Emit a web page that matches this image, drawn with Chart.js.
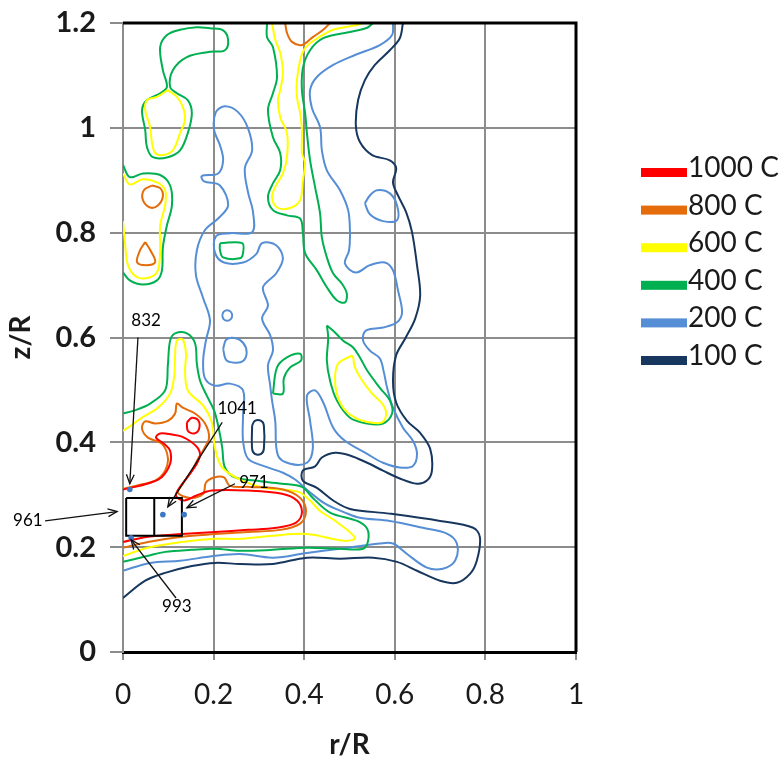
<!DOCTYPE html>
<html><head><meta charset="utf-8">
<script src="https://cdn.jsdelivr.net/npm/chart.js@4.4.0/dist/chart.umd.min.js"></script>
<style>html,body{margin:0;padding:0;background:#fff;}canvas{display:block;}</style>
</head><body>
<canvas id="c" width="782" height="763"></canvas>
<script>
// ---------- categories / ticks ----------
const levels = ['1000 C','800 C','600 C','400 C','200 C','100 C'];
const xTickValues = [0,0.2,0.4,0.6,0.8,1];
const yTickValues = [0,0.2,0.4,0.6,0.8,1,1.2];

// ---------- contour lines, [r/R, z/R] ----------
// 1000 C
const red1000_hot = [[0,0.310],[0.026,0.315],[0.060,0.323],[0.086,0.334],[0.104,0.359],[0.104,0.384],[0.091,0.397],[0.073,0.409],[0.082,0.417],[0.108,0.415],[0.130,0.411],[0.150,0.401],[0.166,0.388],[0.170,0.375],[0.163,0.359],[0.146,0.338],[0.126,0.315],[0.117,0.298],[0.135,0.289],[0.161,0.298],[0.196,0.308],[0.276,0.308],[0.351,0.302],[0.384,0.289],[0.395,0.266],[0.382,0.247],[0.338,0.237],[0.276,0.233],[0.203,0.229],[0.130,0.225],[0.055,0.220],[0,0.210]];
const red1000_small = [[0.141,0.438],[0.152,0.447],[0.166,0.442],[0.168,0.426],[0.157,0.417],[0.143,0.422],[0.141,0.438]];
// 800 C
const orange800_hot = [[0,0.311],[0.038,0.319],[0.071,0.327],[0.093,0.346],[0.099,0.371],[0.086,0.397],[0.055,0.409],[0.042,0.426],[0.049,0.440],[0.071,0.436],[0.099,0.441],[0.115,0.455],[0.119,0.474],[0.132,0.466],[0.159,0.455],[0.181,0.436],[0.190,0.409],[0.179,0.388],[0.166,0.369],[0.152,0.346],[0.132,0.321],[0.121,0.304],[0.148,0.294],[0.177,0.302],[0.183,0.323],[0.201,0.333],[0.223,0.333],[0.236,0.317],[0.280,0.315],[0.353,0.310],[0.391,0.294],[0.404,0.268],[0.391,0.245],[0.347,0.233],[0.276,0.229],[0.203,0.225],[0.130,0.220],[0.055,0.210],[0,0.199]];
const orange800_top = [[0.358,1.200],[0.362,1.181],[0.373,1.164],[0.395,1.158],[0.419,1.173],[0.442,1.187],[0.457,1.200]];
const orange800_upperLeft = [[0.064,0.890],[0.082,0.885],[0.088,0.869],[0.077,0.852],[0.060,0.848],[0.044,0.862],[0.046,0.881],[0.064,0.890]];
const orange800_lowerLeft = [[0.049,0.782],[0.060,0.767],[0.071,0.744],[0.051,0.738],[0.031,0.744],[0.038,0.767],[0.049,0.782]];
// 600 C
const yellow600_topLeft = [[0.099,1.072],[0.119,1.059],[0.132,1.040],[0.137,1.015],[0.126,0.990],[0.110,0.957],[0.088,0.948],[0.071,0.952],[0.064,0.971],[0.060,1.001],[0.049,1.034],[0.053,1.053],[0.075,1.059],[0.099,1.072]];
const yellow600_left = [[0,0.913],[0.015,0.892],[0.044,0.902],[0.075,0.896],[0.093,0.881],[0.093,0.852],[0.082,0.814],[0.082,0.767],[0.077,0.728],[0.060,0.715],[0.031,0.715],[0.011,0.738],[0.004,0.785],[0,0.822]];
const yellow600_top = [[0.329,1.200],[0.336,1.168],[0.347,1.143],[0.353,1.105],[0.347,1.072],[0.342,1.053],[0.347,1.020],[0.362,0.990],[0.362,0.944],[0.353,0.913],[0.336,0.887],[0.329,0.868],[0.340,0.848],[0.369,0.847],[0.391,0.862],[0.397,0.900],[0.402,0.933],[0.395,0.952],[0.395,0.996],[0.391,1.028],[0.384,1.059],[0.384,1.091],[0.391,1.129],[0.402,1.152],[0.424,1.168],[0.464,1.187],[0.517,1.196],[0.530,1.200]];
const yellow600_right = [[0.506,0.566],[0.475,0.550],[0.468,0.524],[0.472,0.493],[0.486,0.466],[0.512,0.447],[0.545,0.438],[0.572,0.438],[0.581,0.455],[0.572,0.474],[0.550,0.493],[0.528,0.518],[0.512,0.543],[0.508,0.562],[0.506,0.566]];
const yellow600_hot = [[0,0.422],[0.011,0.428],[0.042,0.447],[0.077,0.466],[0.104,0.493],[0.113,0.527],[0.115,0.566],[0.119,0.594],[0.132,0.596],[0.139,0.569],[0.137,0.537],[0.143,0.499],[0.177,0.470],[0.196,0.438],[0.203,0.390],[0.219,0.352],[0.263,0.327],[0.313,0.313],[0.386,0.306],[0.413,0.289],[0.435,0.269],[0.472,0.248],[0.512,0.218],[0.490,0.212],[0.406,0.225],[0.331,0.222],[0.258,0.216],[0.203,0.216],[0.130,0.210],[0.055,0.199],[0,0.183]];
// 400 C
const green400_topLeft = [[0.192,1.190],[0.221,1.186],[0.232,1.168],[0.225,1.148],[0.192,1.145],[0.141,1.135],[0.110,1.110],[0.104,1.078],[0.119,1.066],[0.143,1.053],[0.152,1.028],[0.143,0.990],[0.126,0.957],[0.099,0.944],[0.066,0.944],[0.053,0.963],[0.049,0.996],[0.042,1.034],[0.053,1.053],[0.082,1.066],[0.097,1.078],[0.088,1.110],[0.082,1.154],[0.097,1.177],[0.126,1.187],[0.163,1.192],[0.192,1.190]];
const green400_left = [[0,0.929],[0.015,0.906],[0.044,0.913],[0.082,0.910],[0.104,0.890],[0.108,0.852],[0.097,0.814],[0.088,0.772],[0.086,0.728],[0.075,0.709],[0.044,0.701],[0.015,0.709],[0,0.724]];
const green400_top = [[0.318,1.200],[0.318,1.173],[0.331,1.154],[0.340,1.097],[0.331,1.066],[0.320,1.034],[0.331,0.982],[0.347,0.952],[0.347,0.919],[0.331,0.894],[0.320,0.868],[0.331,0.843],[0.362,0.833],[0.391,0.827],[0.397,0.801],[0.402,0.761],[0.428,0.728],[0.450,0.696],[0.472,0.671],[0.490,0.667],[0.494,0.684],[0.483,0.703],[0.464,0.722],[0.450,0.753],[0.439,0.791],[0.435,0.837],[0.424,0.887],[0.413,0.938],[0.406,0.990],[0.402,1.028],[0.395,1.072],[0.397,1.114],[0.413,1.148],[0.442,1.171],[0.501,1.183],[0.539,1.191],[0.552,1.200]];
const green400_smallOval = [[0.214,0.780],[0.263,0.780],[0.265,0.761],[0.258,0.751],[0.221,0.753],[0.214,0.767],[0.214,0.780]];
const green400_arc = [[0.331,0.493],[0.340,0.543],[0.362,0.562],[0.391,0.569],[0.393,0.556],[0.369,0.543],[0.355,0.522],[0.353,0.493],[0.331,0.493]];
const green400_right = [[0.450,0.623],[0.453,0.600],[0.450,0.556],[0.457,0.518],[0.472,0.480],[0.501,0.447],[0.539,0.436],[0.574,0.436],[0.594,0.455],[0.589,0.480],[0.567,0.504],[0.539,0.537],[0.523,0.562],[0.508,0.581],[0.486,0.594],[0.464,0.613],[0.450,0.623]];
const green400_hot = [[0,0.455],[0.026,0.461],[0.060,0.474],[0.093,0.499],[0.099,0.547],[0.104,0.594],[0.115,0.608],[0.141,0.608],[0.159,0.589],[0.163,0.550],[0.170,0.518],[0.185,0.489],[0.201,0.461],[0.210,0.432],[0.219,0.390],[0.225,0.352],[0.247,0.333],[0.291,0.327],[0.351,0.321],[0.395,0.315],[0.419,0.294],[0.457,0.266],[0.517,0.250],[0.539,0.235],[0.541,0.212],[0.530,0.197],[0.479,0.197],[0.406,0.199],[0.331,0.195],[0.258,0.193],[0.203,0.197],[0.152,0.195],[0.093,0.191],[0.053,0.183],[0,0.172]];
// 200 C
const blue200_main = [[0.596,1.200],[0.594,1.177],[0.567,1.158],[0.512,1.139],[0.464,1.120],[0.428,1.097],[0.413,1.072],[0.417,1.038],[0.435,1.001],[0.439,0.957],[0.450,0.919],[0.479,0.881],[0.497,0.843],[0.501,0.801],[0.499,0.766],[0.490,0.741],[0.514,0.724],[0.545,0.738],[0.578,0.743],[0.596,0.728],[0.607,0.690],[0.616,0.648],[0.605,0.629],[0.574,0.619],[0.536,0.613],[0.530,0.594],[0.545,0.575],[0.567,0.560],[0.576,0.533],[0.583,0.504],[0.596,0.466],[0.618,0.428],[0.640,0.403],[0.649,0.378],[0.640,0.355],[0.611,0.352],[0.574,0.361],[0.539,0.378],[0.490,0.403],[0.464,0.428],[0.442,0.476],[0.424,0.499],[0.406,0.489],[0.413,0.441],[0.419,0.388],[0.406,0.361],[0.369,0.359],[0.342,0.375],[0.336,0.441],[0.329,0.480],[0.325,0.508],[0.320,0.547],[0.331,0.575],[0.325,0.604],[0.307,0.636],[0.320,0.661],[0.309,0.696],[0.338,0.722],[0.353,0.751],[0.338,0.776],[0.307,0.780],[0.294,0.759],[0.265,0.743],[0.223,0.743],[0.203,0.762],[0.205,0.793],[0.236,0.799],[0.285,0.801],[0.287,0.839],[0.276,0.877],[0.269,0.923],[0.285,0.957],[0.276,0.999],[0.254,1.030],[0.225,1.041],[0.205,1.030],[0.201,0.996],[0.214,0.967],[0.221,0.938],[0.210,0.913],[0.174,0.908],[0.179,0.898],[0.214,0.890],[0.232,0.852],[0.210,0.827],[0.181,0.805],[0.163,0.766],[0.161,0.719],[0.177,0.675],[0.192,0.633],[0.183,0.594],[0.177,0.556],[0.181,0.522],[0.203,0.508],[0.236,0.512],[0.265,0.499],[0.265,0.451],[0.265,0.403],[0.276,0.369],[0.313,0.354],[0.353,0.342],[0.380,0.329],[0.408,0.308],[0.446,0.283],[0.490,0.266],[0.523,0.256],[0.589,0.250],[0.662,0.237],[0.715,0.226],[0.737,0.207],[0.733,0.174],[0.706,0.159],[0.671,0.161],[0.627,0.187],[0.596,0.207],[0.567,0.207],[0.479,0.197],[0.406,0.189],[0.331,0.180],[0.258,0.187],[0.199,0.183],[0.126,0.174],[0.060,0.170],[0,0.155]];
const blue200_rightOval = [[0.534,0.856],[0.545,0.871],[0.561,0.881],[0.589,0.875],[0.605,0.852],[0.605,0.824],[0.574,0.822],[0.545,0.835],[0.534,0.856]];
const blue200_ring = [[0.219,0.642],[0.222,0.649],[0.230,0.652],[0.238,0.649],[0.241,0.642],[0.238,0.635],[0.230,0.632],[0.222,0.635],[0.219,0.642]];
const blue200_loop = [[0.221,0.578],[0.228,0.596],[0.247,0.599],[0.265,0.590],[0.273,0.572],[0.265,0.555],[0.247,0.552],[0.228,0.557],[0.221,0.578]];
// 100 C
const navy100_main = [[0.618,1.200],[0.611,1.171],[0.589,1.148],[0.556,1.120],[0.534,1.091],[0.519,1.053],[0.514,1.005],[0.523,0.973],[0.550,0.948],[0.589,0.938],[0.603,0.923],[0.596,0.896],[0.607,0.871],[0.625,0.839],[0.638,0.801],[0.649,0.738],[0.656,0.680],[0.645,0.636],[0.623,0.598],[0.603,0.566],[0.596,0.518],[0.603,0.476],[0.627,0.441],[0.656,0.418],[0.678,0.388],[0.682,0.346],[0.671,0.327],[0.649,0.321],[0.611,0.331],[0.574,0.346],[0.539,0.361],[0.501,0.375],[0.468,0.380],[0.439,0.371],[0.424,0.354],[0.397,0.346],[0.397,0.327],[0.428,0.313],[0.464,0.289],[0.501,0.273],[0.589,0.264],[0.700,0.250],[0.773,0.237],[0.788,0.218],[0.781,0.174],[0.766,0.149],[0.737,0.132],[0.700,0.136],[0.649,0.155],[0.605,0.172],[0.552,0.180],[0.479,0.178],[0.406,0.180],[0.331,0.168],[0.258,0.168],[0.203,0.170],[0.152,0.164],[0.093,0.151],[0.049,0.136],[0,0.103]];
const navy100_oval = [[0.285,0.432],[0.291,0.441],[0.305,0.441],[0.311,0.432],[0.311,0.388],[0.305,0.378],[0.291,0.378],[0.285,0.388],[0.285,0.432]];

// ---------- measurement probes ----------
const probeLabels = ['832','961','1041','971','993'];
const probePoints = [[0.015,0.310],[-0.009,0.262],[0.088,0.262],[0.135,0.262],[0.018,0.218]];
const labelAt    = [[0.051,0.633],[-0.210,0.250],[0.252,0.464],[0.289,0.323],[0.119,0.086]];
const arrowFrom  = [[0.033,0.600],[-0.172,0.250],[0.219,0.438],[0.247,0.321],[0.117,0.103]];
const arrowTo    = [[0.015,0.321],[-0.013,0.268],[0.099,0.277],[0.141,0.275],[0.018,0.214]];
const boxR = [0.007,0.069,0.130];
const boxZ = [0.222,0.294];

// ---------- styles ----------
const levelColors = {'1000 C':'#FF0000','800 C':'#E46C0A','600 C':'#FFFF00','400 C':'#00B050','200 C':'#558ED5','100 C':'#17375E'};
const contourGroups = [
  ['100 C',[navy100_main,navy100_oval]],
  ['200 C',[blue200_main,blue200_rightOval,blue200_ring,blue200_loop]],
  ['400 C',[green400_topLeft,green400_left,green400_top,green400_smallOval,green400_arc,green400_right,green400_hot]],
  ['600 C',[yellow600_topLeft,yellow600_left,yellow600_top,yellow600_right,yellow600_hot]],
  ['800 C',[orange800_hot,orange800_top,orange800_upperLeft,orange800_lowerLeft]],
  ['1000 C',[red1000_hot,red1000_small]]
];
const toXY = arr => arr.map(p => ({x:p[0], y:p[1]}));
const datasets = [];
let ord = 100;
contourGroups.forEach(([lvl, paths]) => {
  paths.forEach(p => datasets.push({label:lvl, data:toXY(p), showLine:true, borderColor:levelColors[lvl],
    borderWidth:2, pointRadius:0, tension:0.35, fill:false, order:ord--}));
});
const rectPath = [[boxR[0],boxZ[1]],[boxR[2],boxZ[1]],[boxR[2],boxZ[0]],[boxR[0],boxZ[0]],[boxR[0],boxZ[1]]];
const rectDivider = [[boxR[1],boxZ[1]],[boxR[1],boxZ[0]]];
datasets.push({label:'box', data:toXY(rectPath), showLine:true, borderColor:'#000', borderWidth:2, pointRadius:0, tension:0, order:2});
datasets.push({label:'box', data:toXY(rectDivider), showLine:true, borderColor:'#000', borderWidth:2, pointRadius:0, tension:0, order:2});
datasets.push({label:'probes', data:toXY(probePoints), showLine:false, pointRadius:2.8, pointBackgroundColor:'#3C78C3', pointBorderWidth:0, clip:false, order:1});

const txt = '#1a1a1a';
const frame = {
  id:'frame',
  afterDraw(chart){
    const {ctx, chartArea:a} = chart;
    ctx.save();
    ctx.strokeStyle='#000'; ctx.lineWidth=3;
    ctx.beginPath(); ctx.moveTo(a.left, a.top); ctx.lineTo(a.right, a.top); ctx.lineTo(a.right, a.bottom); ctx.stroke();
    ctx.restore();
  }
};
const notes = {
  id:'notes',
  afterDatasetsDraw(chart){
    const {ctx, scales:{x, y}} = chart;
    ctx.save();
    ctx.strokeStyle='#111'; ctx.lineWidth=1.3;
    arrowFrom.forEach((f,i) => {
      const x0=x.getPixelForValue(f[0]), y0=y.getPixelForValue(f[1]);
      const x1=x.getPixelForValue(arrowTo[i][0]), y1=y.getPixelForValue(arrowTo[i][1]);
      ctx.beginPath(); ctx.moveTo(x0,y0); ctx.lineTo(x1,y1); ctx.stroke();
      const ang=Math.atan2(y1-y0,x1-x0), L=10;
      ctx.beginPath();
      ctx.moveTo(x1-L*Math.cos(ang-0.4), y1-L*Math.sin(ang-0.4));
      ctx.lineTo(x1,y1);
      ctx.lineTo(x1-L*Math.cos(ang+0.4), y1-L*Math.sin(ang+0.4));
      ctx.stroke();
    });
    ctx.font='17px Lato'; ctx.fillStyle='#000'; ctx.textAlign='center'; ctx.textBaseline='middle';
    probeLabels.forEach((t,i) => ctx.fillText(t, x.getPixelForValue(labelAt[i][0]), y.getPixelForValue(labelAt[i][1])));
    ctx.restore();
  }
};
const legendBox = {
  id:'legendBox',
  afterDraw(chart){
    const {ctx} = chart;
    ctx.save();
    ctx.font='28px Lato'; ctx.textAlign='left'; ctx.textBaseline='alphabetic';
    levels.forEach((lvl,i) => {
      const cy = 172.5 + i*37.6;
      ctx.fillStyle=levelColors[lvl];
      ctx.fillRect(641, cy-4.5, 46, 9);
      ctx.fillStyle=txt;
      ctx.fillText(lvl, 688, cy+4.5);
    });
    ctx.restore();
  }
};

new Chart(document.getElementById('c'), {
  type:'scatter',
  data:{datasets},
  options:{
    responsive:false, animation:false, devicePixelRatio:1,
    layout:{padding:{left:0, right:206, top:23, bottom:0}},
    plugins:{legend:{display:false}, tooltip:{enabled:false}},
    scales:{
      x:{type:'linear', min:0, max:1,
        afterBuildTicks: s => { s.ticks = xTickValues.map(v => ({value:v})); },
        afterFit: s => { s.height = 111; s.paddingLeft = 0; s.paddingRight = 0; },
        ticks:{font:{family:'Lato', size:28}, color:txt, padding:18, callback:v => String(+v.toFixed(1))},
        grid:{color:'#8c8c8c', lineWidth:2, tickLength:8, tickColor:'#8c8c8c'},
        border:{color:'#000', width:3},
        title:{display:true, text:'r/R', color:txt, font:{family:'Lato', size:28, weight:'bold'}, padding:{top:0, bottom:1}}
      },
      y:{type:'linear', min:0, max:1.2,
        afterBuildTicks: s => { s.ticks = yTickValues.map(v => ({value:v})); },
        afterFit: s => { s.width = 123; s.paddingTop = 0; s.paddingBottom = 0; },
        ticks:{font:{family:'Lato', size:29, weight:'bold'}, color:txt, padding:14, callback:v => String(+v.toFixed(1))},
        grid:{color:'#8c8c8c', lineWidth:2, tickLength:13, tickColor:'#8c8c8c'},
        border:{color:'#8c8c8c', width:2},
        title:{display:true, text:'z/R', color:txt, font:{family:'Lato', size:28, weight:'bold'}, padding:{top:4, bottom:0}}
      }
    }
  },
  plugins:[frame, notes, legendBox]
});
</script>
</body></html>
